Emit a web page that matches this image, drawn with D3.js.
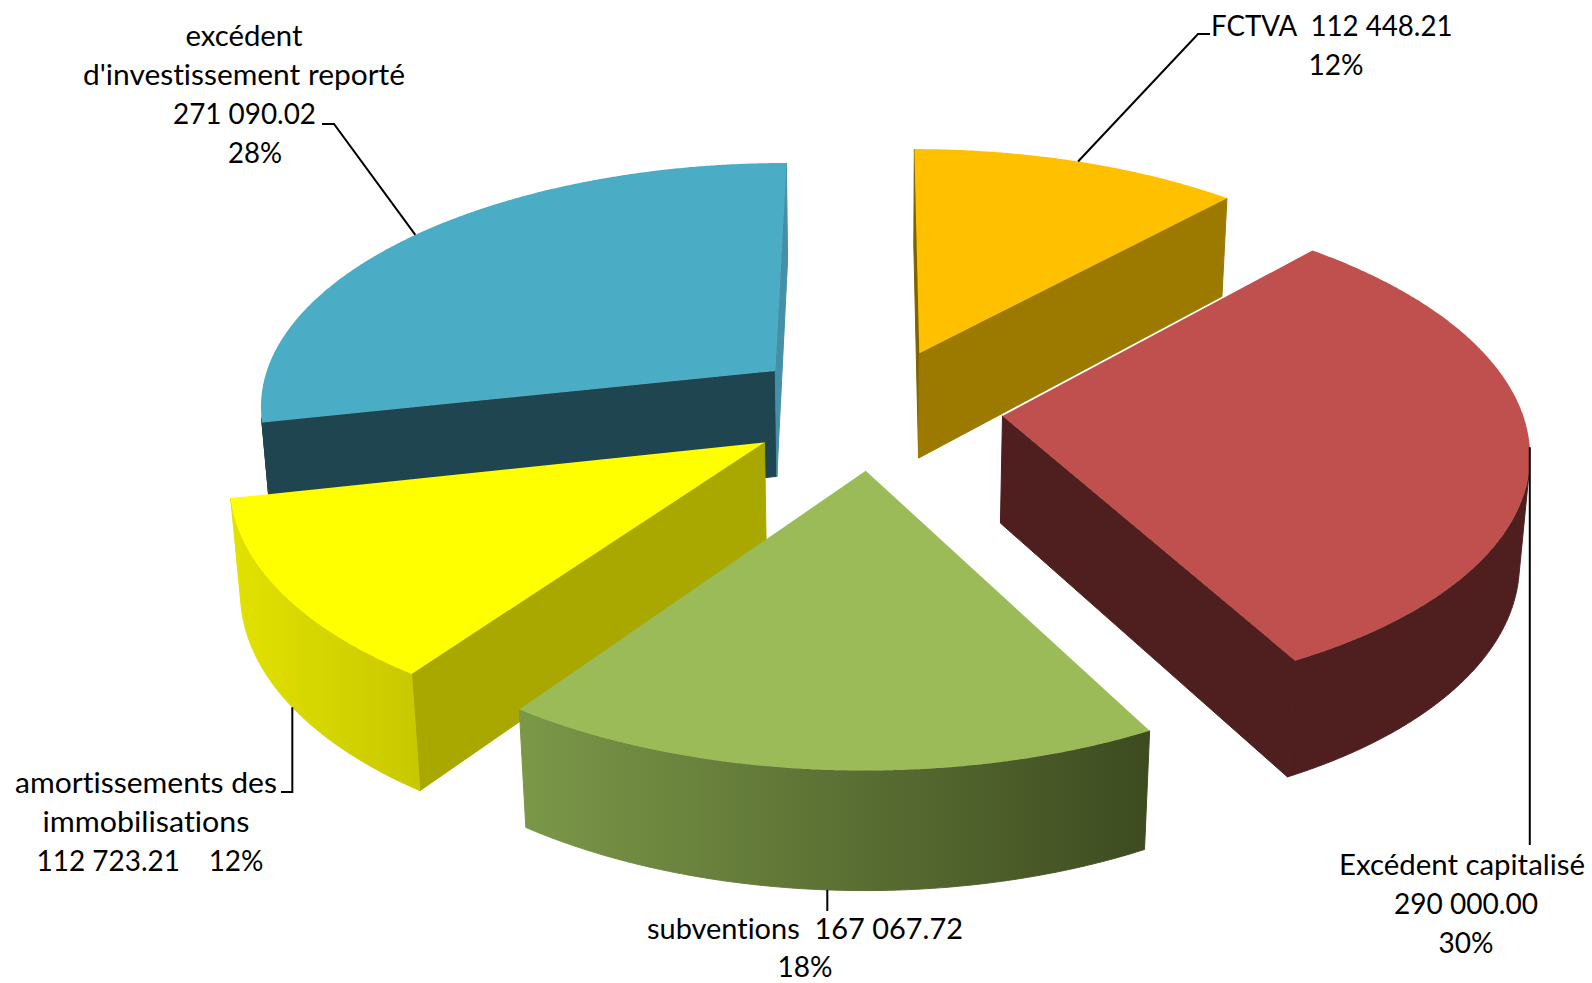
<!DOCTYPE html>
<html>
<head>
<meta charset="utf-8">
<script src="https://cdn.jsdelivr.net/npm/d3@7"></script>
<style>
  body { margin: 0; background: #fff; }
  text { font-family: Lato, "Open Sans", sans-serif; font-size: 29px; fill: #000; white-space: pre; font-variant-ligatures: none; }
</style>
</head>
<body>
<svg id="chart" width="1592" height="983"></svg>
<script>
// data, in the order of the pie (clockwise from the top)
const categories = ["FCTVA", "Excédent capitalisé", "subventions", "amortissements des immobilisations", "excédent d'investissement reporté"];
const amounts = [112448.21, 290000.00, 167067.72, 112723.21, 271090.02];

// colours
const topColors = ["#ffc000", "#c0504d", "#9bbb59", "#ffff00", "#4bacc6"];
const startWallColors = ["#7d6200", "#4f1f1f", "#4f6128", "#a8a800", "#1f4650"];
const endWallColors = ["#9c7a00", "#4f1f1f", "#4f6128", "#a8a800", "#4590a8"];
const outerStops = [
    ["#9c7a00", "#9c7a00"],
    ["#4f1f1f", "#4f1f1f"],
    ["#7b9848", "#3d4b20"],
    ["#e2e200", "#c8c800"],
    ["#1f4650", "#1f4650"]
];
const drawOrder = [0, 4, 1, 3, 2];

// labels: text, x, baseline, anchor, width on the page
const labelLines = [
    [["FCTVA  112 448.21", 1211, 36, "start", 241.5], ["12%", 1336, 75, "middle", 55]],
    [["Excédent capitalisé", 1462, 875, "middle", 246], ["290 000.00", 1466, 914, "middle", 144], ["30%", 1466, 953, "middle", 55]],
    [["subventions  167 067.72", 805, 939, "middle", 316], ["18%", 805, 977, "middle", 55]],
    [["amortissements des", 146, 793, "middle", 262], ["immobilisations", 146, 832, "middle", 207], ["112 723.21    12%", 150, 871, "middle", 227]],
    [["excédent", 244, 46, "middle", 117], ["d'investissement reporté", 244, 85, "middle", 322], ["271 090.02", 244.5, 124, "middle", 143], ["28%", 255, 163, "middle", 54]]
];
// leader lines leave each slice at its middle angle, null = same x as the start
const leaderBottom = [0, 0, 1, 1, 0];
const leaderElbows = [
    [[1198, 34], [1210, 34]],
    [[null, 845]],
    [[null, 911]],
    [[null, 792], [281, 792]],
    [[334, 124], [322, 124]]
];

// camera fitted on the picture
const cx = 873.89, cy = 408.25, focal = 3565, dist = 6.8729, tilt = 0.489;
const thickness = 0.2372, explode = 0.2489, firstAngle = 0.0002;
const step = 0.005;

const camY = -dist * Math.cos(tilt), camZ = dist * Math.sin(tilt);

const slices = d3.pie().sort(null)
    .startAngle(firstAngle)
    .endAngle(firstAngle + 2 * Math.PI)(amounts);
slices.forEach(d => { d.mid = (d.startAngle + d.endAngle) / 2; });

function world(d, a, r, bottom) {
    return [
        r * Math.sin(a) + explode * Math.sin(d.mid),
        r * Math.cos(a) + explode * Math.cos(d.mid),
        bottom ? -thickness : 0
    ];
}
function project(p) {
    const w = dist + p[1] * Math.cos(tilt) - p[2] * Math.sin(tilt);
    return [cx + focal * p[0] / w, cy - focal * (p[1] * Math.sin(tilt) + p[2] * Math.cos(tilt)) / w];
}
const at = (d, a, r, bottom) => project(world(d, a, r, bottom));
const facesCamera = (n, p) => n[0] * (0 - p[0]) + n[1] * (camY - p[1]) + n[2] * (camZ - p[2]) > 0;

const angles = d => d3.range(d.startAngle, d.endAngle, step).concat(d.endAngle);
const polygon = d3.line();

const svg = d3.select("#chart");
const defs = svg.append("defs");

function wallPath(d, a) {
    return polygon([at(d, a, 0, false), at(d, a, 1, false), at(d, a, 1, true), at(d, a, 0, true)]) + "Z";
}
function outerPath(d) {
    const seen = angles(d).filter(a => facesCamera([Math.sin(a), Math.cos(a), 0], world(d, a, 1, false)));
    if (seen.length < 2) return null;
    return polygon(seen.map(a => at(d, a, 1, false)).concat(seen.slice().reverse().map(a => at(d, a, 1, true)))) + "Z";
}
function topPath(d) {
    return polygon([at(d, 0, 0, false)].concat(angles(d).map(a => at(d, a, 1, false)))) + "Z";
}

const groups = svg.selectAll("g.slice")
    .data(drawOrder.map(i => Object.assign({ i: i }, slices[i])))
    .join("g")
    .attr("class", "slice");

// side gradient runs over the visible part of the rim
groups.each(function (d) {
    const xs = angles(d).flatMap(a => [at(d, a, 1, false)[0], at(d, a, 1, true)[0]]);
    const g = defs.append("linearGradient")
        .attr("id", "rim" + d.i)
        .attr("gradientUnits", "userSpaceOnUse")
        .attr("x1", d3.min(xs)).attr("x2", d3.max(xs))
        .attr("y1", 0).attr("y2", 0);
    g.selectAll("stop").data(outerStops[d.i]).join("stop")
        .attr("offset", (c, k) => k)
        .attr("stop-color", c => c);
});

// cut walls, only those turned to the camera
groups.filter(d => facesCamera([-Math.cos(d.startAngle), Math.sin(d.startAngle), 0], world(d, d.startAngle, 0, false)))
    .append("path")
    .attr("d", d => wallPath(d, d.startAngle))
    .attr("fill", d => startWallColors[d.i])
    .attr("stroke", d => startWallColors[d.i])
    .attr("stroke-width", 1);
groups.filter(d => facesCamera([Math.cos(d.endAngle), -Math.sin(d.endAngle), 0], world(d, d.endAngle, 0, false)))
    .append("path")
    .attr("d", d => wallPath(d, d.endAngle))
    .attr("fill", d => endWallColors[d.i])
    .attr("stroke", d => endWallColors[d.i])
    .attr("stroke-width", 1);

groups.filter(d => outerPath(d) !== null)
    .append("path")
    .attr("d", outerPath)
    .attr("fill", d => `url(#rim${d.i})`)
    .attr("stroke", d => `url(#rim${d.i})`)
    .attr("stroke-width", 1);

groups.append("path")
    .attr("d", topPath)
    .attr("fill", d => topColors[d.i]);

// leader lines
svg.append("g").selectAll("path")
    .data(slices)
    .join("path")
    .attr("fill", "none")
    .attr("stroke", "#000")
    .attr("stroke-width", 2)
    .attr("d", (d, i) => {
        const start = at(d, d.mid, 1, leaderBottom[i] === 1);
        return polygon([start].concat(leaderElbows[i].map(e => [e[0] === null ? start[0] : e[0], e[1]])));
    });

// labels
svg.append("g").selectAll("text")
    .data(labelLines.flat())
    .join("text")
    .attr("x", d => d[1])
    .attr("y", d => d[2])
    .attr("text-anchor", d => d[3])
    .attr("textLength", d => d[4])
    .attr("lengthAdjust", "spacingAndGlyphs")
    .text(d => d[0]);
</script>
</body>
</html>
